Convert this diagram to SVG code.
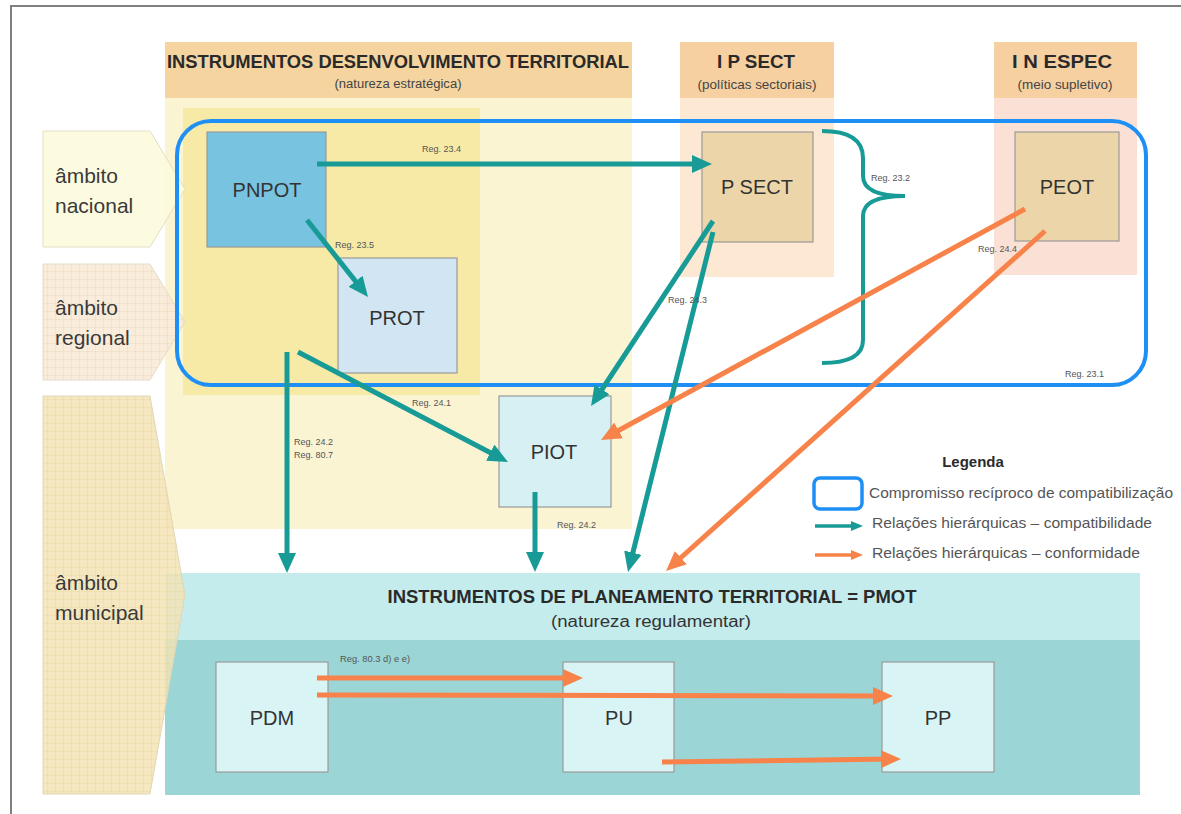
<svg xmlns="http://www.w3.org/2000/svg" width="1181" height="814" viewBox="0 0 1181 814">
<style>
.t{font-family:"Liberation Sans",Arial,sans-serif;fill:#333}
.hb{font-family:"Liberation Sans",Arial,sans-serif;font-weight:bold;fill:#2a2a2a}
.sub{font-family:"Liberation Sans",Arial,sans-serif;fill:#444;font-size:12px}
.reg{font-family:"Liberation Sans",Arial,sans-serif;fill:#555;font-size:9px}
.box{stroke:#9a9a9a;stroke-width:1.2}
.amb{font-family:"Liberation Sans",Arial,sans-serif;fill:#3a3a3a;font-size:21px}
.node{font-family:"Liberation Sans",Arial,sans-serif;fill:#333;font-size:20px;text-anchor:middle}
.tl{fill:none;stroke:#189b96;stroke-width:5}
.or{fill:none;stroke:#f7834a;stroke-width:5}
.leg{font-family:"Liberation Sans",Arial,sans-serif;fill:#555;font-size:15px}
</style>
<defs>
<marker id="aT" markerUnits="userSpaceOnUse" markerWidth="20" markerHeight="18" viewBox="0 0 20 18" refX="11" refY="9" orient="auto"><path d="M0,0 L20,9 L0,18 z" fill="#189b96"/></marker>
<marker id="aO" markerUnits="userSpaceOnUse" markerWidth="20" markerHeight="18" viewBox="0 0 20 18" refX="11" refY="9" orient="auto"><path d="M0,0 L20,9 L0,18 z" fill="#f7834a"/></marker>
<marker id="sT" markerUnits="userSpaceOnUse" markerWidth="12" markerHeight="10" viewBox="0 0 12 10" refX="6" refY="5" orient="auto"><path d="M0,0 L12,5 L0,10 z" fill="#189b96"/></marker>
<marker id="sO" markerUnits="userSpaceOnUse" markerWidth="12" markerHeight="10" viewBox="0 0 12 10" refX="6" refY="5" orient="auto"><path d="M0,0 L12,5 L0,10 z" fill="#f7834a"/></marker>
<pattern id="gridR" width="8" height="8" patternUnits="userSpaceOnUse"><path d="M8,0 V8 M0,8 H8" stroke="#ead3b5" stroke-width="0.8" fill="none"/></pattern>
<pattern id="gridM" width="8" height="8" patternUnits="userSpaceOnUse"><path d="M8,0 V8 M0,8 H8" stroke="#e8d398" stroke-width="0.8" fill="none"/></pattern>
</defs>
<rect width="1181" height="814" fill="#ffffff"/>
<!-- frame -->
<path d="M11,814 V6 H1181" fill="none" stroke="#808080" stroke-width="2"/>

<!-- columns -->
<g id="col-desenvolvimento">
<rect x="165" y="97" width="467" height="432" fill="#faf4d3"/>
<rect x="165" y="42" width="467" height="56" fill="#f6d4a0"/>
<text class="hb" x="398" y="68" font-size="18" text-anchor="middle" textLength="462" lengthAdjust="spacingAndGlyphs">INSTRUMENTOS DESENVOLVIMENTO TERRITORIAL</text>
<text class="sub" x="398" y="88" text-anchor="middle" textLength="127" lengthAdjust="spacingAndGlyphs">(natureza estratégica)</text>
</g>
<g id="col-ipsect">
<rect x="680" y="97" width="154" height="180" fill="#fce8d3"/>
<rect x="680" y="42" width="154" height="56" fill="#f6d0a0"/>
<text class="hb" x="756" y="68" font-size="18" text-anchor="middle" textLength="78" lengthAdjust="spacingAndGlyphs">I P SECT</text>
<text class="sub" x="757" y="89" text-anchor="middle" textLength="119" lengthAdjust="spacingAndGlyphs">(políticas sectoriais)</text>
</g>
<g id="col-inespec">
<rect x="994" y="97" width="143" height="178" fill="#fbe1d5"/>
<rect x="994" y="42" width="143" height="56" fill="#f6d0a0"/>
<text class="hb" x="1062" y="68" font-size="18" text-anchor="middle" textLength="100" lengthAdjust="spacingAndGlyphs">I N ESPEC</text>
<text class="sub" x="1065" y="89" text-anchor="middle" textLength="95" lengthAdjust="spacingAndGlyphs">(meio supletivo)</text>
</g>

<!-- PMOT band -->
<g id="pmot">
<rect x="165" y="573" width="975" height="67" fill="#c4ecec"/>
<rect x="165" y="640" width="975" height="155" fill="#9bd5d6"/>
<text class="hb" x="652" y="603" font-size="18" text-anchor="middle" textLength="529" lengthAdjust="spacingAndGlyphs">INSTRUMENTOS DE PLANEAMENTO TERRITORIAL = PMOT</text>
<text class="t" x="651" y="627" font-size="16" fill="#444" text-anchor="middle" textLength="200" lengthAdjust="spacingAndGlyphs">(natureza regulamentar)</text>
</g>

<!-- inner regional yellow -->
<rect x="183" y="108" width="297" height="287" fill="#f7eaa6"/>

<!-- ambito shapes -->
<g id="ambito-nacional">
<polygon points="43,131 150,131 185,189 150,247 43,247" fill="#fdfbdb" fill-opacity="0.9" stroke="#e2dfc6" stroke-width="1"/>
<text class="amb" x="55" y="183">âmbito</text>
<text class="amb" x="55" y="213">nacional</text>
</g>
<g id="ambito-regional">
<polygon points="43,264 150,264 185,322 150,380 43,380" fill="#f8ead7" fill-opacity="0.9" stroke="#e4dccd" stroke-width="1"/>
<polygon points="43,264 150,264 185,322 150,380 43,380" fill="url(#gridR)"/>
<text class="amb" x="55" y="315">âmbito</text>
<text class="amb" x="55" y="345">regional</text>
</g>
<g id="ambito-municipal">
<polygon points="43,396 150,396 185,595 150,794 43,794" fill="#f3e3b3" fill-opacity="0.82" stroke="#e0d6b5" stroke-width="1"/>
<polygon points="43,396 150,396 185,595 150,794 43,794" fill="url(#gridM)"/>
<text class="amb" x="55" y="590">âmbito</text>
<text class="amb" x="55" y="620">municipal</text>
</g>

<!-- nodes -->
<g id="PNPOT"><rect class="box" x="207" y="132" width="119" height="115" fill="#78c3e0"/><text class="node" x="267" y="197">PNPOT</text></g>
<g id="PROT"><rect class="box" x="338" y="258" width="119" height="115" fill="#d1e6f2"/><text class="node" x="397" y="325">PROT</text></g>
<g id="PSECT"><rect class="box" x="702" y="132" width="111" height="110" fill="#ecd6a9"/><text class="node" x="757" y="194">P SECT</text></g>
<g id="PEOT"><rect class="box" x="1015" y="132" width="104" height="109" fill="#ecd6a9"/><text class="node" x="1067" y="194">PEOT</text></g>
<g id="PIOT"><rect class="box" x="499" y="396" width="112" height="111" fill="#d7f0f4"/><text class="node" x="554" y="459">PIOT</text></g>
<g id="PDM"><rect class="box" x="216" y="662" width="112" height="110" fill="#d9f4f5"/><text class="node" x="272" y="725">PDM</text></g>
<g id="PU"><rect class="box" x="563" y="662" width="111" height="110" fill="#d9f4f5"/><text class="node" x="619" y="725">PU</text></g>
<g id="PP"><rect class="box" x="882" y="662" width="112" height="110" fill="#d9f4f5"/><text class="node" x="938" y="725">PP</text></g>

<!-- compromise outline -->
<g id="compromisso">
<rect x="177" y="121" width="969" height="264" rx="34" fill="none" stroke="#1e90f5" stroke-width="4"/>
</g>

<!-- connectors -->
<g id="connectors">
<path d="M822,131 Q863,131 863,158 L863,176 Q863,196 905,196 Q863,196 863,216 L863,340 Q863,363 822,363" fill="none" stroke="#189b96" stroke-width="4"/>
<line class="tl" x1="317" y1="164" x2="703" y2="164" marker-end="url(#aT)"/>
<line class="tl" x1="307" y1="220" x2="362.4" y2="289.9" marker-end="url(#aT)"/>
<line class="tl" x1="287" y1="352" x2="287" y2="564" marker-end="url(#aT)"/>
<line class="tl" x1="298" y1="352" x2="500" y2="457.8" marker-end="url(#aT)"/>
<line class="tl" x1="713" y1="221" x2="596" y2="398.5" marker-end="url(#aT)"/>
<line class="tl" x1="713" y1="232" x2="630.2" y2="563.3" marker-end="url(#aT)"/>
<line class="tl" x1="535" y1="492" x2="535" y2="563" marker-end="url(#aT)"/>
<line class="or" x1="1025" y1="209" x2="608.9" y2="435.7" marker-end="url(#aO)"/>
<line class="or" x1="1045" y1="231" x2="672.7" y2="565" marker-end="url(#aO)"/>
<line class="or" x1="317" y1="678" x2="574" y2="678" marker-end="url(#aO)"/>
<line class="or" x1="317" y1="695" x2="884" y2="696" marker-end="url(#aO)"/>
<line class="or" x1="662" y1="762" x2="892" y2="759" marker-end="url(#aO)"/>
</g>

<!-- regulation labels -->
<g id="labels">
<text class="reg" x="422" y="152">Reg. 23.4</text>
<text class="reg" x="335" y="248">Reg. 23.5</text>
<text class="reg" x="871" y="181">Reg. 23.2</text>
<text class="reg" x="978" y="252">Reg. 24.4</text>
<text class="reg" x="668" y="303">Reg. 24.3</text>
<text class="reg" x="1065" y="377">Reg. 23.1</text>
<text class="reg" x="412" y="406">Reg. 24.1</text>
<text class="reg" x="294" y="445">Reg. 24.2</text>
<text class="reg" x="294" y="458">Reg. 80.7</text>
<text class="reg" x="557" y="528">Reg. 24.2</text>
<text class="reg" x="340" y="662" font-size="8" textLength="70" lengthAdjust="spacingAndGlyphs">Reg. 80.3 d) e e)</text>
</g>

<!-- legend -->
<g id="legenda">
<text class="hb" x="973" y="467" font-size="15" text-anchor="middle" fill="#333">Legenda</text>
<rect x="814" y="478" width="48" height="31" rx="6" fill="#ffffff" stroke="#1e90f5" stroke-width="3.5"/>
<text class="leg" x="869" y="498" textLength="304" lengthAdjust="spacingAndGlyphs">Compromisso recíproco de compatibilização</text>
<line x1="815" y1="526" x2="857" y2="526" stroke="#189b96" stroke-width="3.5" marker-end="url(#sT)"/>
<text class="leg" x="872" y="528" textLength="280" lengthAdjust="spacingAndGlyphs">Relações hierárquicas – compatibilidade</text>
<line x1="815" y1="555" x2="857" y2="555" stroke="#f7834a" stroke-width="3.5" marker-end="url(#sO)"/>
<text class="leg" x="872" y="558" textLength="268" lengthAdjust="spacingAndGlyphs">Relações hierárquicas – conformidade</text>
</g>
</svg>
